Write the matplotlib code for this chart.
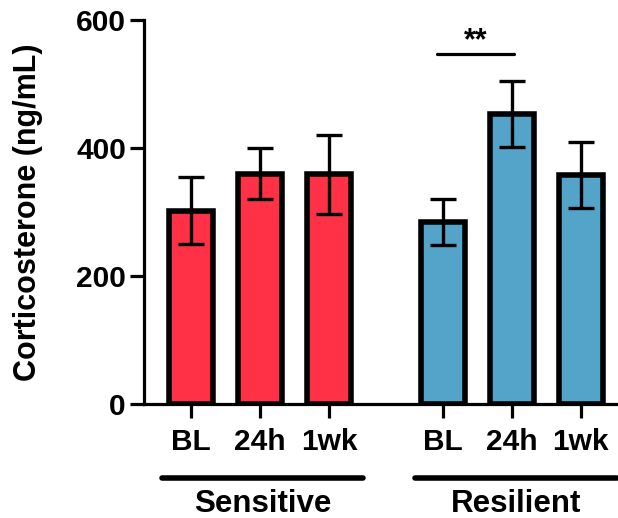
import matplotlib
matplotlib.use("Agg")
import matplotlib.pyplot as plt
from matplotlib.transforms import blended_transform_factory

plt.rcParams['font.family'] = ['Liberation Sans', 'DejaVu Sans']
plt.rcParams['font.weight'] = 'bold'

# Data
timepoints = ["BL", "24h", "1wk"]
groups = ["Sensitive", "Resilient"]
sensitive_mean = [302, 360, 359]
sensitive_sem = [52, 40, 62]
resilient_mean = [284, 453, 358]
resilient_sem = [36, 51, 52]
group_colors = ["#FE3146", "#53A4C8"]
sig_label = "**"

fig = plt.figure(figsize=(6.18, 5.18), dpi=100)
ax = fig.add_axes([144 / 618, 1 - 404 / 518, (616 - 144) / 618, (404 - 20) / 518])

sens_x = [0, 1, 2]
res_x = [3.65, 4.65, 5.65]
width = 0.63

for xs, means, sems, color in [(sens_x, sensitive_mean, sensitive_sem, group_colors[0]),
                               (res_x, resilient_mean, resilient_sem, group_colors[1])]:
    ax.bar(xs, means, width=width, color=color, edgecolor="black", linewidth=4, zorder=2)
    ax.errorbar(xs, means, yerr=sems, fmt="none", ecolor="black", elinewidth=2.4,
                capsize=9.5, capthick=2.4, zorder=3)

ax.set_xlim(-0.68, 6.16)
ax.set_ylim(0, 600)
ax.set_yticks([0, 200, 400, 600])
ax.set_xticks(sens_x + res_x)
ax.set_xticklabels(timepoints + timepoints)

for side in ["top", "right"]:
    ax.spines[side].set_visible(False)
for side in ["left", "bottom"]:
    ax.spines[side].set_linewidth(2.3)

ax.tick_params(axis="both", width=2.3, length=10, labelsize=21.5)
ax.tick_params(axis="x", pad=7)
ax.tick_params(axis="y", pad=3)
for lbl in ax.get_xticklabels() + ax.get_yticklabels():
    lbl.set_fontweight("bold")

ax.set_ylabel("Corticosterone (ng/mL)", fontsize=22, fontweight="bold")
ax.yaxis.set_label_coords(-0.214, 0.5)

# Group underlines and labels below the axis
trans = blended_transform_factory(ax.transData, ax.transAxes)
group_spans = [(-0.42, 2.5), (3.25, 6.17)]
group_y = -(478 - 404) / 384
label_y = -(504 - 404) / 384
for name, (x0, x1) in zip(groups, group_spans):
    ax.plot([x0, x1], [group_y, group_y], color="black", linewidth=4, solid_capstyle="round",
            transform=trans, clip_on=False)
    ax.text((x0 + x1) / 2, label_y, name, transform=trans, ha="center", va="center",
            fontsize=22.5, fontweight="bold")

# Significance bracket between Resilient BL and 24h
ax.plot([3.57, 4.68], [547, 547], color="black", linewidth=2.3, solid_capstyle="round",
        clip_on=False)
ax.text((3.57 + 4.68) / 2, 543, sig_label, ha="center", va="bottom", fontsize=22,
        fontweight="bold", clip_on=False)

fig.savefig("out.png", dpi=100)
